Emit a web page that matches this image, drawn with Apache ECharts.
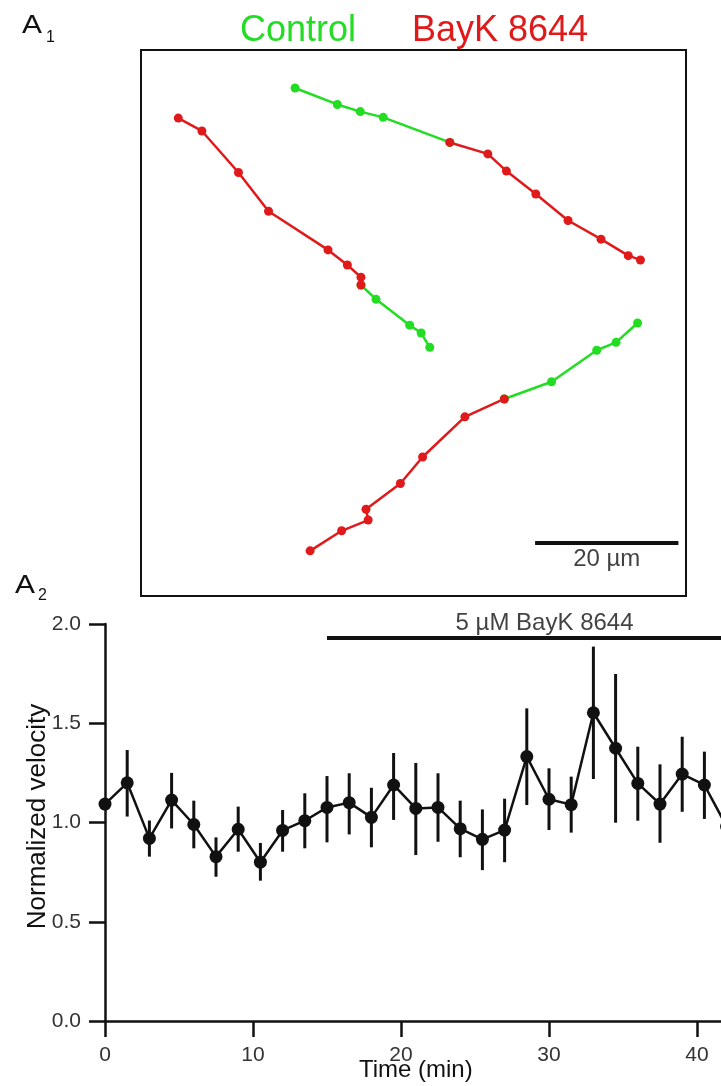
<!DOCTYPE html>
<html><head><meta charset="utf-8">
<script src="https://cdn.jsdelivr.net/npm/echarts@6/dist/echarts.min.js"></script>
<style>html,body{margin:0;padding:0;background:#fff}#c{width:721px;height:1086px}</style>
</head><body><div id="c"></div>
<script>
const FONT = '"Liberation Sans", Arial, Helvetica, sans-serif';

// ---- A1: tracks, in µm (x right, y up) ----
const trackAControl = [[30.7,43.4],[32.8,41.4],[37.5,37.8],[39.1,36.7],[40.3,34.7]];
const trackABayK    = [[5.2,66.7],[8.5,64.9],[13.6,59.1],[17.8,53.7],[26.1,48.3],[28.8,46.2],[30.7,44.5],[30.7,43.4]];
const trackBControl = [[21.5,70.9],[27.4,68.6],[30.6,67.6],[33.8,66.8],[43.1,63.3]];
const trackBBayK    = [[43.1,63.3],[48.4,61.7],[51.0,59.3],[55.1,56.1],[59.6,52.4],[64.2,49.8],[68.0,47.5],[69.7,46.9]];
const trackCControl = [[50.7,27.5],[57.3,29.9],[63.6,34.3],[66.3,35.4],[69.3,38.1]];
const trackCBayK    = [[23.6,6.3],[28.0,9.1],[31.7,10.6],[31.4,12.1],[36.2,15.7],[39.3,19.4],[45.2,25.0],[50.7,27.5]];
const fieldUm = [76.06, 76.2];
const scaleBarUm = [55, 75];
const scaleBarLevel = 7.4;
const scaleBarText = '20 µm';

// ---- A2: normalized velocity vs time ----
const timeMin  = [0,1.5,3,4.5,6,7.5,9,10.5,12,13.5,15,16.5,18,19.5,21,22.5,24,25.5,27,28.5,30,31.5,33,34.5,36,37.5,39,40.5,42];
const velocity = [1.093,1.20,0.92,1.113,0.99,0.828,0.966,0.80,0.96,1.009,1.076,1.10,1.026,1.189,1.071,1.076,0.969,0.915,0.962,1.332,1.117,1.09,1.553,1.374,1.197,1.093,1.244,1.189,0.98];
const errHigh  = [null,1.365,1.01,1.25,1.11,0.925,1.08,0.897,1.063,1.147,1.234,1.248,1.175,1.35,1.30,1.248,1.11,1.066,1.12,1.575,1.273,1.231,1.886,1.748,1.382,1.293,1.432,1.357,1.15];
const errLow   = [null,1.03,0.828,0.97,0.87,0.727,0.853,0.707,0.853,0.87,0.9,0.94,0.875,1.013,0.836,0.903,0.825,0.76,0.80,1.088,0.962,0.949,1.219,0.999,1.009,0.898,1.054,1.018,0.82];
const drugSpan = [15, 42];
const drugLevel = 1.93;
const drugLabelAt = 29.7;
const drugText = '5 µM BayK 8644';

const GREEN = '#22dd22', RED = '#e01a1a';

const chart = echarts.init(document.getElementById('c'), null, {renderer:'canvas'});

function track(data, color) {
  return {type:'line', xAxisIndex:0, yAxisIndex:0, data:data, symbol:'circle', symbolSize:9,
    showSymbol:true, lineStyle:{color:color, width:2.5}, itemStyle:{color:color}, silent:true, animation:false};
}

const velData = timeMin.map((t,i)=>[t, velocity[i]]);
const errData = timeMin.map((t,i)=>[t, errLow[i], errHigh[i]]).filter(d=>d[1]!==null);

chart.setOption({
  animation:false,
  backgroundColor:'#fff',
  textStyle:{fontFamily:FONT},
  graphic:[
    {type:'text', x:22, y:13, scaleX:1.15, style:{text:'A', font:'26px '+FONT, fill:'#111'}},
    {type:'text', x:46, y:30, style:{text:'1', font:'16px '+FONT, fill:'#111'}},
    {type:'text', x:240, y:13, style:{text:'Control', font:'36px '+FONT, fill:GREEN}},
    {type:'text', x:412, y:13, style:{text:'BayK 8644', font:'36px '+FONT, fill:RED}},
    {type:'text', x:15, y:573, scaleX:1.15, style:{text:'A', font:'26px '+FONT, fill:'#111'}},
    {type:'text', x:38, y:588, style:{text:'2', font:'16px '+FONT, fill:'#111'}}
  ],
  grid:[
    {left:141, top:50, width:545, height:546, show:true, borderColor:'#111', borderWidth:2, backgroundColor:'transparent', outerBoundsMode:'none'},
    {left:105, top:624, width:621.6, height:397, outerBoundsMode:'none'}
  ],
  xAxis:[
    {gridIndex:0, type:'value', min:0, max:fieldUm[0], show:false},
    {gridIndex:1, type:'value', min:0, max:42, interval:10,
     axisLine:{onZero:false, lineStyle:{color:'#111', width:2.5}},
     axisTick:{inside:false, length:16, lineStyle:{color:'#111', width:2.5}},
     axisLabel:{fontSize:21, color:'#333', margin:24, showMaxLabel:false, fontFamily:FONT},
     splitLine:{show:false},
     name:'Time (min)', nameLocation:'middle', nameGap:37, nameMoveOverlap:false,
     nameTextStyle:{fontSize:24, color:'#111', fontFamily:FONT}}
  ],
  yAxis:[
    {gridIndex:0, type:'value', min:0, max:fieldUm[1], show:false},
    {gridIndex:1, type:'value', min:0, max:2, interval:0.5,
     axisLine:{show:true, onZero:false, lineStyle:{color:'#111', width:2.5}},
     axisTick:{show:true, inside:false, length:16, lineStyle:{color:'#111', width:2.5}},
     axisLabel:{fontSize:21, color:'#333', margin:24, formatter:v=>v.toFixed(1), fontFamily:FONT},
     splitLine:{show:false},
     name:'Normalized velocity', nameLocation:'middle', nameGap:54, nameMoveOverlap:false,
     nameTextStyle:{fontSize:26, color:'#111', fontFamily:FONT, padding:[0,0,0,12]}}
  ],
  series:[
    track(trackAControl, GREEN), track(trackBControl, GREEN), track(trackCControl, GREEN),
    track(trackABayK, RED), track(trackBBayK, RED), track(trackCBayK, RED),
    {type:'line', xAxisIndex:0, yAxisIndex:0, data:scaleBarUm.map(x=>[x, scaleBarLevel]), symbol:'none',
     lineStyle:{color:'#111', width:4}, silent:true},
    {type:'scatter', xAxisIndex:0, yAxisIndex:0, data:[[(scaleBarUm[0]+scaleBarUm[1])/2, scaleBarLevel]],
     symbolSize:0.1, itemStyle:{color:'rgba(0,0,0,0)'}, silent:true,
     label:{show:true, position:'bottom', distance:4, formatter:scaleBarText, fontSize:24, color:'#111', fontFamily:FONT}},
    {type:'custom', xAxisIndex:1, yAxisIndex:1, data:errData, silent:true,
     renderItem:function(params, api){
       const p1 = api.coord([api.value(0), api.value(1)]);
       const p2 = api.coord([api.value(0), api.value(2)]);
       return {type:'line', shape:{x1:p1[0], y1:p1[1], x2:p2[0], y2:p2[1]}, style:{stroke:'#111', lineWidth:3}};
     }},
    {type:'line', xAxisIndex:1, yAxisIndex:1, data:velData, symbol:'circle', symbolSize:13, showSymbol:true,
     lineStyle:{color:'#111', width:2.5}, itemStyle:{color:'#111'}, silent:true},
    {type:'line', xAxisIndex:1, yAxisIndex:1, data:drugSpan.map(x=>[x, drugLevel]), symbol:'none',
     lineStyle:{color:'#111', width:4}, silent:true},
    {type:'scatter', xAxisIndex:1, yAxisIndex:1, data:[[drugLabelAt, drugLevel]], symbolSize:0.1,
     itemStyle:{color:'rgba(0,0,0,0)'}, silent:true,
     label:{show:true, position:'top', distance:2, formatter:drugText, fontSize:24, color:'#111', fontFamily:FONT}}
  ]
});
</script></body></html>
